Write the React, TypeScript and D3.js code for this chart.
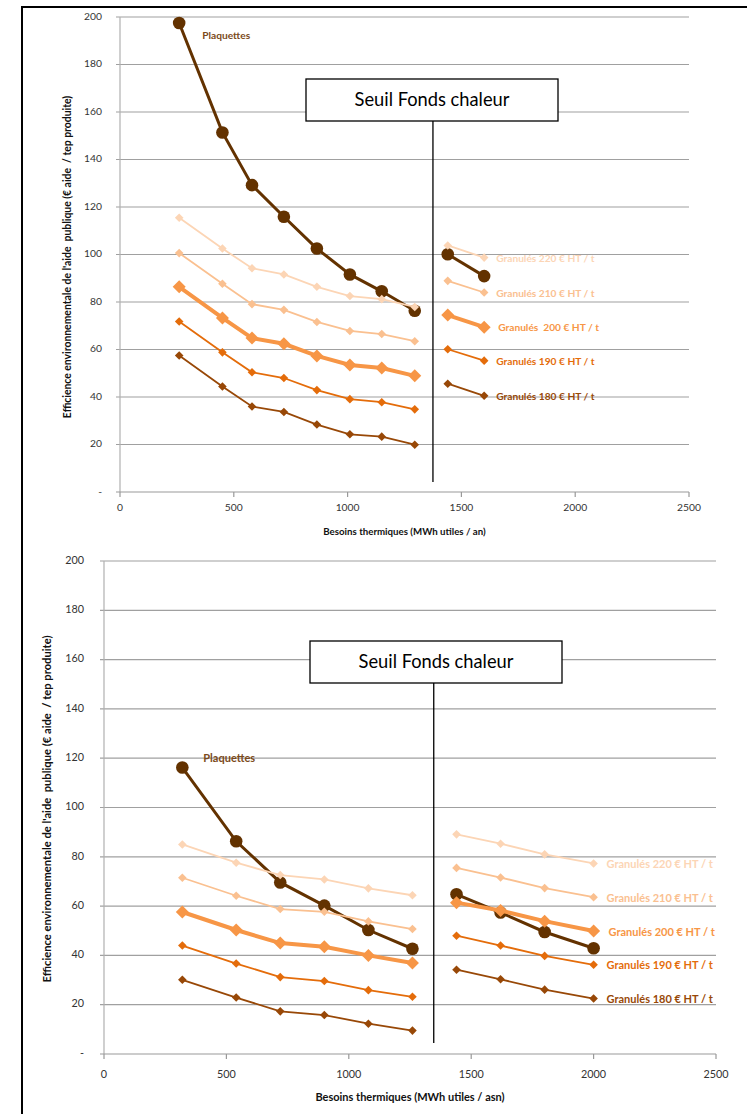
import React from 'react';
import * as d3 from 'd3';

// ---------- DATA ----------
const seriesNames = ['Plaquettes', 'Granulés 220 € HT / t', 'Granulés 210 € HT / t', 'Granulés 200 € HT / t', 'Granulés 190 € HT / t', 'Granulés 180 € HT / t'];
const topLabelNames = ['Plaquettes', 'Granulés 220 € HT / t', 'Granulés 210 € HT / t', 'Granulés  200 € HT / t', 'Granulés 190 € HT / t', 'Granulés 180 € HT / t'];
const seuilValue = [1375, 1347];
const yTicks = [0, 20, 40, 60, 80, 100, 120, 140, 160, 180, 200];
const xTicks = [0, 500, 1000, 1500, 2000, 2500];
const yTitle = "Efficience environnementale de l'aide  publique (€ aide  / tep produite)";
const xTitles = ['Besoins thermiques (MWh utiles / an)', 'Besoins thermiques (MWh utiles / asn)'];
const seuilLabel = 'Seuil Fonds chaleur';

// top chart
const topXLeft = [260, 450, 580, 720, 865, 1010, 1150, 1295];
const topXRight = [1440, 1600];
const topPlaquettesLeft = [197.5, 151.4, 129.2, 115.9, 102.5, 91.6, 84.5, 76.3];
const topPlaquettesRight = [100.1, 90.9];
const top220Left = [115.5, 102.5, 94.2, 91.6, 86.4, 82.5, 81.2, 77.9];
const top220Right = [103.8, 98.7];
const top210Left = [100.6, 87.7, 79.1, 76.7, 71.6, 67.8, 66.5, 63.5];
const top210Right = [88.9, 84.0];
const top200Left = [86.4, 73.3, 64.8, 62.4, 57.3, 53.5, 52.2, 48.9];
const top200Right = [74.5, 69.4];
const top190Left = [71.8, 58.8, 50.4, 48.0, 42.9, 39.1, 37.8, 34.8];
const top190Right = [60.1, 55.3];
const top180Left = [57.5, 44.4, 36.0, 33.7, 28.4, 24.3, 23.3, 19.9];
const top180Right = [45.6, 40.5];

// bottom chart
const botXLeft = [320, 540, 720, 900, 1080, 1260];
const botXRight = [1440, 1620, 1800, 2000];
const botPlaquettesLeft = [116.2, 86.3, 69.6, 60.2, 50.3, 42.7];
const botPlaquettesRight = [64.8, 57.4, 49.5, 42.9];
const bot220Left = [85.0, 77.6, 72.6, 70.8, 67.2, 64.4];
const bot220Right = [89.1, 85.3, 81.0, 77.3];
const bot210Left = [71.5, 64.2, 58.8, 57.7, 53.8, 50.7];
const bot210Right = [75.5, 71.6, 67.3, 63.6];
const bot200Left = [57.6, 50.3, 45.0, 43.5, 40.0, 36.9];
const bot200Right = [61.4, 58.2, 53.9, 49.9];
const bot190Left = [44.0, 36.7, 31.2, 29.6, 25.9, 23.2];
const bot190Right = [48.0, 44.0, 39.8, 36.2];
const bot180Left = [30.1, 22.9, 17.3, 15.8, 12.3, 9.5];
const bot180Right = [34.2, 30.3, 26.1, 22.5];

// ---------- STYLES ----------
const colors = ['#633200', '#FCD5B5', '#FAC090', '#F79646', '#E46C0A', '#984807'];
const labelColors = ['#7B4A1A', '#FCD5B5', '#FAC090', '#F79646', '#E46C0A', '#984807'];
const lineWidths = [3, 1.8, 1.8, 4, 1.8, 1.8];
const markerSizes = [6.3, 4.3, 4.3, 6.5, 4.3, 4.3];

type Geo = {
  x0: number; x1: number; yTop: number; yBot: number;
  seuil: number; box: [number, number, number, number];
  lineEndVal: number;
  tickDy: number; titleDy: number; yLabelOffset: number; yTitleX: number; yTitleY: number;
  fontTick: number; fontLabel: number; fontTitle: number; fontYTitle: number;
  plaqLabelDx: number; plaqLabelDy: number;
  labelDx: number;
  xTitle: string; names: string[];
};

function Chart({ geo, xLeft, xRight, left, right }: { geo: Geo; xLeft: number[]; xRight: number[]; left: number[][]; right: number[][] }) {
  const x = d3.scaleLinear().domain([0, 2500]).range([geo.x0, geo.x1]);
  const y = d3.scaleLinear().domain([0, 200]).range([geo.yBot, geo.yTop]);
  const line = d3.line<[number, number]>().x(d => x(d[0])).y(d => y(d[1]));
  const sx = x(geo.seuil);
  const font = 'Lato, Carlito, "Open Sans", sans-serif';

  const marker = (i: number, px: number, py: number, k: string) => {
    const r = markerSizes[i];
    if (i === 0) return <circle key={k} cx={px} cy={py} r={r} fill={colors[i]} />;
    return <path key={k} d={`M${px},${py - r}L${px + r},${py}L${px},${py + r}L${px - r},${py}Z`} fill={colors[i]} />;
  };

  const drawOrder = [0, 1, 2, 3, 4, 5];
  return (
    <g>
      {yTicks.filter(t => t > 0).map(t => (
        <line key={'g' + t} x1={geo.x0 - 4} x2={geo.x1} y1={y(t)} y2={y(t)} stroke="#A0A0A0" strokeWidth={1.2} />
      ))}
      <line x1={geo.x0} x2={geo.x0} y1={geo.yTop} y2={geo.yBot} stroke="#B0B0B0" strokeWidth={1.2} />
      <line x1={geo.x0 - 4} x2={geo.x1} y1={geo.yBot} y2={geo.yBot} stroke="#999" strokeWidth={1.2} />
      {xTicks.map(t => (
        <g key={'xt' + t}>
          <line x1={x(t)} x2={x(t)} y1={geo.yBot} y2={geo.yBot + 5} stroke="#999" strokeWidth={1.2} />
          <text x={x(t)} y={geo.yBot + geo.tickDy} textAnchor="middle" dominantBaseline="middle" fontFamily={font} fontSize={geo.fontTick} fill="#333">{t}</text>
        </g>
      ))}
      {yTicks.map(t => (
        <text key={'yt' + t} x={geo.x0 - geo.yLabelOffset} y={y(t)} textAnchor="end" dominantBaseline="middle" fontFamily={font} fontSize={geo.fontTick} fill="#333">{t === 0 ? '-' : t}</text>
      ))}
      <text x={(geo.x0 + geo.x1) / 2} y={geo.yBot + geo.titleDy} textAnchor="middle" dominantBaseline="middle" fontFamily={font} fontSize={geo.fontTitle} fontWeight="bold" fill="#111">{geo.xTitle}</text>
      <text transform={`translate(${geo.yTitleX},${geo.yTitleY}) rotate(-90)`} textAnchor="middle" dominantBaseline="middle" fontFamily={font} fontSize={geo.fontYTitle} fontWeight="bold" fill="#111" style={{ whiteSpace: 'pre' }}>{yTitle}</text>

      {/* seuil */}
      <line x1={sx} x2={sx} y1={geo.box[1] + geo.box[3]} y2={y(geo.lineEndVal)} stroke="#000" strokeWidth={1.3} />
      <rect x={geo.box[0]} y={geo.box[1]} width={geo.box[2]} height={geo.box[3]} fill="#fff" stroke="#000" strokeWidth={1.3} />
      <text x={geo.box[0] + geo.box[2] / 2} y={geo.box[1] + geo.box[3] / 2 + 1} textAnchor="middle" dominantBaseline="middle" fontFamily={font} fontSize={18.3} fill="#000">{seuilLabel}</text>

      {drawOrder.map(i => {
        const lp = xLeft.map((xv, j) => [xv, left[i][j]] as [number, number]);
        const rp = xRight.map((xv, j) => [xv, right[i][j]] as [number, number]);
        return (
          <g key={'s' + i}>
            <path d={line(lp) || ''} fill="none" stroke={colors[i]} strokeWidth={lineWidths[i]} />
            <path d={line(rp) || ''} fill="none" stroke={colors[i]} strokeWidth={lineWidths[i]} />
            {lp.map((p, j) => marker(i, x(p[0]), y(p[1]), 'l' + j))}
            {rp.map((p, j) => marker(i, x(p[0]), y(p[1]), 'r' + j))}
          </g>
        );
      })}
      {/* labels */}
      <text x={x(xLeft[0]) + geo.plaqLabelDx} y={y(left[0][0]) + geo.plaqLabelDy} dominantBaseline="middle" fontFamily={font} fontSize={geo.fontLabel} fontWeight="bold" fill={labelColors[0]}>{geo.names[0]}</text>
      {[1, 2, 3, 4, 5].map(i => {
        const last = right[i][right[i].length - 1];
        const lx = x(xRight[xRight.length - 1]) + geo.labelDx + (i === 3 ? 2 : 0);
        return (
          <text key={'lb' + i} x={lx} y={y(last) + 1.7} dominantBaseline="middle" fontFamily={font} fontSize={geo.fontLabel} fontWeight="bold" fill={labelColors[i]} style={{ whiteSpace: 'pre' }}>{geo.names[i]}</text>
        );
      })}
    </g>
  );
}

const topGeo: Geo = {
  x0: 120, x1: 689, yTop: 17, yBot: 492, seuil: seuilValue[0], box: [306, 79, 252, 42], lineEndVal: 4.2,
  tickDy: 16, titleDy: 41, yLabelOffset: 18, yTitleX: 68, yTitleY: 257,
  fontTick: 10.3, fontLabel: 10.2, fontTitle: 9.7, fontYTitle: 10.4, plaqLabelDx: 23, plaqLabelDy: 13.5, labelDx: 12,
  xTitle: xTitles[0], names: topLabelNames,
};
const botGeo: Geo = {
  x0: 104, x1: 716, yTop: 561, yBot: 1054, seuil: seuilValue[1], box: [310, 641, 252, 42], lineEndVal: 4.5,
  tickDy: 21, titleDy: 44, yLabelOffset: 20, yTitleX: 48, yTitleY: 809,
  fontTick: 10.8, fontLabel: 11, fontTitle: 11, fontYTitle: 11.2, plaqLabelDx: 21, plaqLabelDy: -8.5, labelDx: 13,
  xTitle: xTitles[1], names: seriesNames,
};

export default function App() {
  return (
    <svg width={747} height={1114} style={{ position: 'absolute', left: 0, top: 0, background: '#fff' }}>
      <rect x={0} y={0} width={747} height={1114} fill="#fff" />
      <line x1={22} x2={747} y1={7} y2={7} stroke="#000" strokeWidth={2} />
      <line x1={22} x2={22} y1={6} y2={1114} stroke="#000" strokeWidth={2} />
      <Chart geo={topGeo} xLeft={topXLeft} xRight={topXRight}
        left={[topPlaquettesLeft, top220Left, top210Left, top200Left, top190Left, top180Left]}
        right={[topPlaquettesRight, top220Right, top210Right, top200Right, top190Right, top180Right]} />
      <Chart geo={botGeo} xLeft={botXLeft} xRight={botXRight}
        left={[botPlaquettesLeft, bot220Left, bot210Left, bot200Left, bot190Left, bot180Left]}
        right={[botPlaquettesRight, bot220Right, bot210Right, bot200Right, bot190Right, bot180Right]} />
    </svg>
  );
}
